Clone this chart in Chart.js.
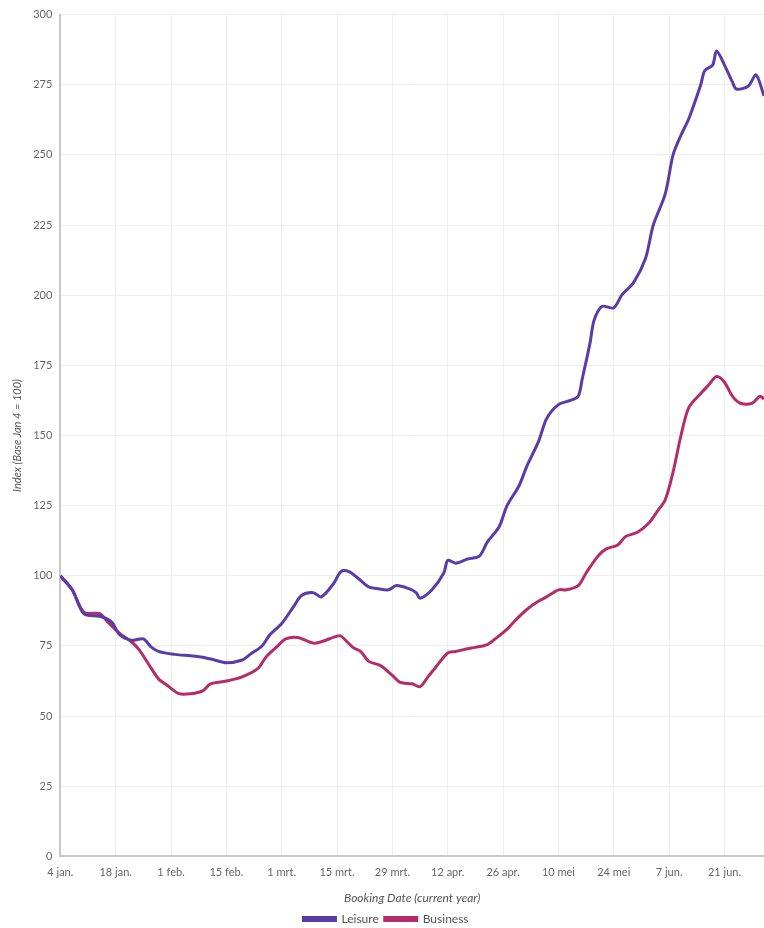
<!DOCTYPE html>
<html>
<head>
<meta charset="utf-8">
<script src="https://cdn.jsdelivr.net/npm/chart.js@4"></script>
<style>
  html, body { margin: 0; padding: 0; background: #fff; }
  #wrap { width: 764px; height: 928px; position: relative; }
</style>
</head>
<body>
<div id="wrap"><canvas id="chart"></canvas></div>
<script>
'use strict';

/* ---- data (x = days since 4 jan) ---- */
const tickDays = [0, 14, 28, 42, 56, 70, 84, 98, 112, 126, 140, 154, 168];
const tickLabels = ['4 jan.', '18 jan.', '1 feb.', '15 feb.', '1 mrt.', '15 mrt.', '29 mrt.', '12 apr.', '26 apr.', '10 mei', '24 mei', '7 jun.', '21 jun.'];

const leisureDays = [0, 3, 6, 10, 13, 15, 18, 21, 23, 25, 29, 33, 36, 39, 42, 46, 48, 51, 53, 56, 59, 61, 64, 66, 69, 71, 73, 75, 78, 80, 83, 85, 88, 90, 91, 94, 97, 98, 100, 103, 106, 108, 111, 113, 116, 118, 121, 123, 126, 129, 131, 132, 134, 135, 137, 140, 142, 145, 148, 150, 153, 155, 157, 159, 162, 163, 165, 166, 168, 170, 171, 174, 176, 178];
const leisureValues = [100, 95, 86.4, 85.6, 83.5, 79, 77, 77.5, 74.6, 73, 72, 71.5, 71, 70, 69, 70, 72, 75, 79, 83, 89, 93, 94, 92.5, 97, 101.5, 101.5, 99.5, 96, 95.5, 95, 96.5, 95.5, 94, 92, 95, 101, 105.5, 104.5, 106, 107, 112, 117.5, 125, 132, 139, 148, 156, 161, 162.5, 164, 170, 183, 191, 196, 195.5, 200, 204.5, 213, 225, 236, 250, 257, 263, 275, 280, 282, 287, 282, 276, 273.5, 274.5, 278.5, 271];

const businessDays = [0, 3, 6, 10, 12, 15, 18, 20, 23, 25, 27, 30, 33, 36, 38, 42, 46, 50, 52, 55, 57, 60, 64, 66, 70, 71, 74, 76, 78, 81, 84, 86, 89, 91, 93, 95, 98, 100, 103, 105, 108, 110, 113, 115, 118, 121, 123, 126, 128, 131, 133, 136, 138, 141, 143, 146, 149, 151, 153, 155, 157, 159, 162, 164, 166, 168, 170, 172, 175, 177, 178];
const businessValues = [100, 95, 87, 86.5, 83.5, 79.5, 76.5, 73.5, 67, 63, 61, 58, 58, 59, 61.5, 62.5, 64, 67, 71, 75, 77.5, 78, 76, 76.5, 78.5, 78.5, 74.5, 73, 69.5, 68, 64.5, 62, 61.5, 60.5, 64, 67.5, 72.5, 73, 74, 74.5, 75.5, 77.5, 81, 84, 88, 91, 92.5, 95, 95, 96.5, 101, 107, 109.5, 111, 114, 115.5, 119, 123, 127, 137, 150, 160, 165, 168, 171, 169, 164, 161.5, 161.5, 164, 163];

const LEISURE = '#5a3ca8';
const BUSINESS = '#b52d68';
const FONT = "Lato, 'Open Sans', sans-serif";

const pts = (xs, ys) => xs.map((x, i) => ({ x, y: ys[i] }));

new Chart(document.getElementById('chart'), {
  type: 'line',
  data: {
    datasets: [
      { label: 'Leisure', data: pts(leisureDays, leisureValues), borderColor: LEISURE, backgroundColor: LEISURE, borderWidth: 3, pointRadius: 0, tension: 0.3 },
      { label: 'Business', data: pts(businessDays, businessValues), borderColor: BUSINESS, backgroundColor: BUSINESS, borderWidth: 3, pointRadius: 0, tension: 0.3 }
    ]
  },
  options: {
    responsive: true,
    maintainAspectRatio: false,
    animation: false,
    layout: { padding: { top: 0, right: 0, left: 8, bottom: -7 } },
    plugins: {
      legend: {
        position: 'bottom',
        labels: { boxWidth: 32, boxHeight: 3, padding: 6, color: '#555', font: { family: FONT, size: 12 } }
      },
      tooltip: { enabled: false }
    },
    scales: {
      x: {
        type: 'linear',
        min: 0,
        max: 178,
        afterBuildTicks: axis => { axis.ticks = tickDays.map(v => ({ value: v })); },
        ticks: {
          autoSkip: false,
          maxRotation: 0,
          color: '#666',
          font: { family: FONT, size: 11 },
          padding: 9,
          callback: v => tickLabels[tickDays.indexOf(v)] || ''
        },
        grid: { color: '#eeeeee', drawTicks: false },
        border: { color: '#c8c8c8', width: 2 },
        title: { display: true, text: 'Booking Date (current year)', color: '#555', font: { family: FONT, size: 12, style: 'italic' }, padding: { top: 3, bottom: 2 } }
      },
      y: {
        min: 0,
        max: 300,
        ticks: { stepSize: 25, color: '#666', font: { family: FONT, size: 11 }, padding: 8 },
        grid: { color: '#eeeeee', drawTicks: false },
        border: { color: '#c8c8c8', width: 2 },
        title: { display: true, text: 'Index (Base Jan 4 = 100)', color: '#555', font: { family: FONT, size: 11, style: 'italic' }, padding: { top: 3, bottom: 1 } }
      }
    }
  }
});
</script>
</body>
</html>
